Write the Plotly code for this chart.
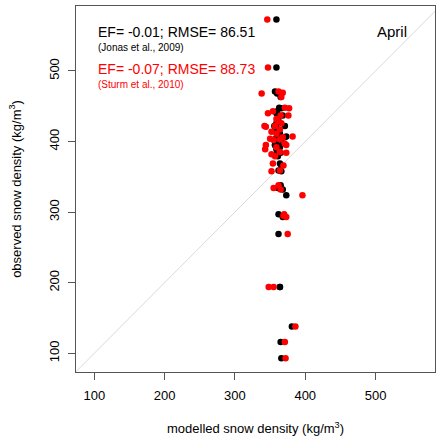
import plotly.graph_objects as go

# observed snow density (kg/m3)
observed = [573, 505, 471, 469, 468, 463, 448, 447, 443, 440, 437, 437, 432, 429, 426,
            422, 421, 422, 414, 417, 411, 407, 406, 404, 402, 403, 397, 395, 395, 389,
            392, 382, 379, 385, 384, 369, 366, 358, 359, 338, 334, 332, 324, 297, 293,
            295, 269, 194, 194, 138, 116, 93]
# modelled with Jonas et al. (2009)
jonas = [359, 359, 357, 364, 360, 365, 363, 366, 360, 359, 368, 361, 361, 362, 359,
         371, 358, 356, 359, 362, 364, 373, 371, 358, 360, 366, 362, 357, 357, 359,
         364, 359, 361, 362, 365, 364, 366, 366, 362, 365, 361, 368, 373, 362, 368,
         370, 362, 364, 364, 381, 365, 366]
# modelled with Sturm et al. (2010)
sturm = [346, 347, 362, 368, 338, 366, 371, 377, 354, 347, 376, 365, 359, 361, 366,
         357, 344, 342, 352, 364, 359, 382, 368, 350, 355, 364, 371, 373, 344, 343,
         359, 352, 357, 364, 373, 354, 369, 352, 364, 362, 355, 365, 396, 370, 373,
         369, 375, 348, 355, 386, 371, 372]

axis_range = [74.0, 584.5]
y_range = [73.5, 592.0]
one_to_one = [0, 700]
ticks = [100, 200, 300, 400, 500]

FONT = "Liberation Sans, Arial, Helvetica, sans-serif"

fig = go.Figure()
fig.add_trace(go.Scatter(x=one_to_one, y=one_to_one, mode="lines",
                         line=dict(color="#d9d9d9", width=1), hoverinfo="skip"))
fig.add_trace(go.Scatter(x=jonas, y=observed, mode="markers",
                         marker=dict(color="black", size=6.5, line=dict(width=0))))
fig.add_trace(go.Scatter(x=sturm, y=observed, mode="markers",
                         marker=dict(color="red", size=6.5, line=dict(width=0))))

axis_common = dict(showgrid=False, zeroline=False, showline=True, linecolor="#555",
                   linewidth=1, mirror=True, ticks="outside", ticklen=7, tickcolor="#555",
                   automargin=False,
                   tickvals=ticks, tickfont=dict(size=13, color="black", family=FONT))

fig.update_xaxes(range=axis_range, ticklabelstandoff=4,
                 title=dict(text="modelled snow density (kg/m<sup>3</sup>)",
                            font=dict(size=13, color="black", family=FONT), standoff=23),
                 **axis_common)
fig.update_yaxes(range=y_range, tickangle=-90, ticklabelstandoff=4,
                 title=dict(text="observed snow density (kg/m<sup>3</sup>)",
                            font=dict(size=13, color="black", family=FONT), standoff=22),
                 **axis_common)

def note(text, y, color, size):
    fig.add_annotation(text=text, xref="paper", yref="paper", x=(96 - 76) / 359,
                       y=(372 - y) / 366, xanchor="left", yanchor="middle",
                       showarrow=False, font=dict(size=size, color=color, family=FONT))

note("EF= -0.01; RMSE= 86.51", 32, "black", 14)
note("(Jonas et al., 2009)", 47, "black", 10)
note("EF= -0.07; RMSE= 88.73", 69, "red", 14)
note("(Sturm et al., 2010)", 84, "red", 10)
fig.add_annotation(text="April", xref="paper", yref="paper", x=(392 - 76) / 359,
                   y=(372 - 32) / 366, xanchor="center", yanchor="middle", showarrow=False,
                   font=dict(size=15, color="black", family=FONT))

fig.update_layout(width=437, height=436, showlegend=False,
                  margin=dict(l=76, r=2, t=6, b=64),
                  plot_bgcolor="white", paper_bgcolor="white",
                  font=dict(family=FONT))
fig.write_html("out.html", config={"displayModeBar": False},
               post_script="document.body.style.margin='0';")
